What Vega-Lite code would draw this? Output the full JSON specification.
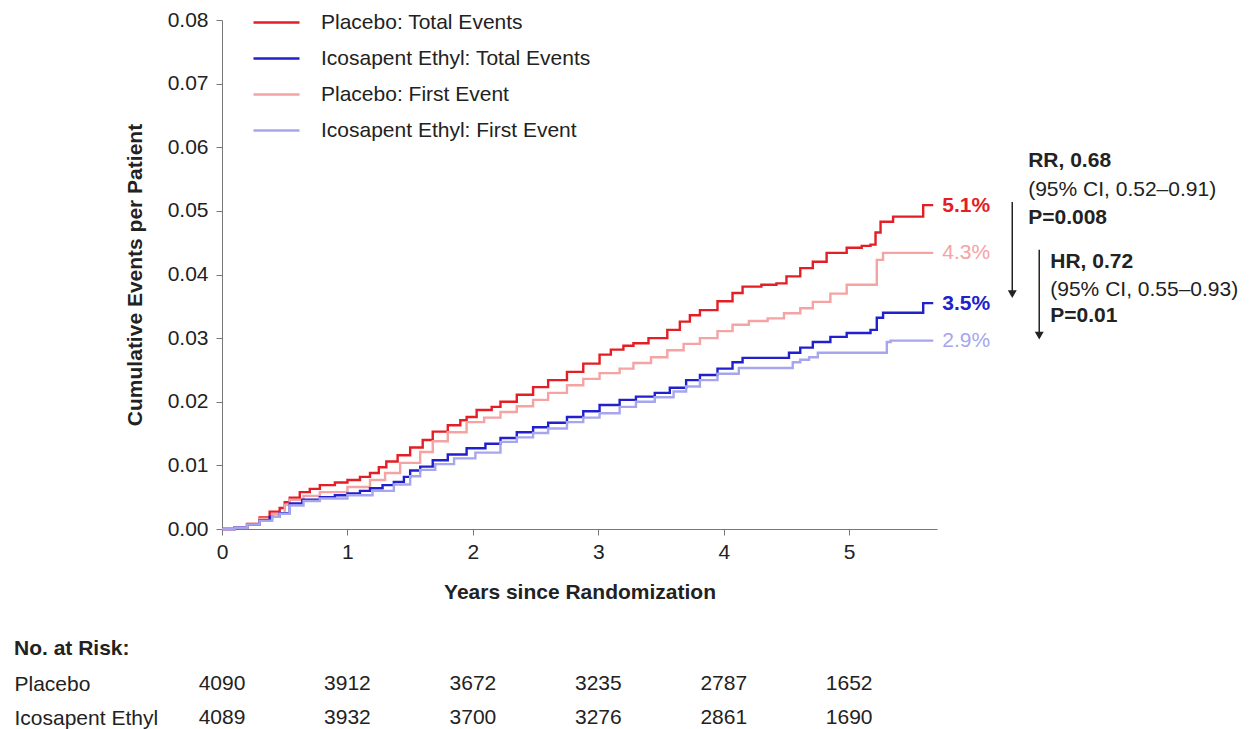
{
  "$schema": "https://vega.github.io/schema/vega-lite/v6.json",
  "background": "white",
  "padding": {"left": 14, "top": 5, "right": 0, "bottom": 0},
  "config": {"font": "Liberation Sans", "view": {"stroke": null}},
  "spacing": 36,
  "resolve": {
    "scale": {"x": "independent", "y": "independent", "color": "independent", "strokeWidth": "independent"},
    "legend": {"color": "independent", "strokeWidth": "independent"}
  },
  "datasets": {
    "curves": [
      {"series": "Placebo: Total Events", "years": 0, "events": 0},
      {"series": "Placebo: Total Events", "years": 0.1, "events": 0.0002},
      {"series": "Placebo: Total Events", "years": 0.2, "events": 0.0008},
      {"series": "Placebo: Total Events", "years": 0.3, "events": 0.0018},
      {"series": "Placebo: Total Events", "years": 0.38, "events": 0.0027},
      {"series": "Placebo: Total Events", "years": 0.46, "events": 0.0033},
      {"series": "Placebo: Total Events", "years": 0.5, "events": 0.0042},
      {"series": "Placebo: Total Events", "years": 0.54, "events": 0.0049},
      {"series": "Placebo: Total Events", "years": 0.62, "events": 0.0058},
      {"series": "Placebo: Total Events", "years": 0.7, "events": 0.0063},
      {"series": "Placebo: Total Events", "years": 0.78, "events": 0.0069},
      {"series": "Placebo: Total Events", "years": 0.9, "events": 0.0073},
      {"series": "Placebo: Total Events", "years": 1.0, "events": 0.0077},
      {"series": "Placebo: Total Events", "years": 1.1, "events": 0.0082},
      {"series": "Placebo: Total Events", "years": 1.18, "events": 0.0088},
      {"series": "Placebo: Total Events", "years": 1.25, "events": 0.0097},
      {"series": "Placebo: Total Events", "years": 1.31, "events": 0.0106},
      {"series": "Placebo: Total Events", "years": 1.4, "events": 0.0116},
      {"series": "Placebo: Total Events", "years": 1.5, "events": 0.0128},
      {"series": "Placebo: Total Events", "years": 1.6, "events": 0.014},
      {"series": "Placebo: Total Events", "years": 1.68, "events": 0.0153},
      {"series": "Placebo: Total Events", "years": 1.8, "events": 0.0163},
      {"series": "Placebo: Total Events", "years": 1.9, "events": 0.0171},
      {"series": "Placebo: Total Events", "years": 1.95, "events": 0.0176},
      {"series": "Placebo: Total Events", "years": 2.03, "events": 0.0187},
      {"series": "Placebo: Total Events", "years": 2.15, "events": 0.0192},
      {"series": "Placebo: Total Events", "years": 2.22, "events": 0.02},
      {"series": "Placebo: Total Events", "years": 2.35, "events": 0.0211},
      {"series": "Placebo: Total Events", "years": 2.48, "events": 0.0223},
      {"series": "Placebo: Total Events", "years": 2.6, "events": 0.0234},
      {"series": "Placebo: Total Events", "years": 2.75, "events": 0.0247},
      {"series": "Placebo: Total Events", "years": 2.88, "events": 0.026},
      {"series": "Placebo: Total Events", "years": 3.01, "events": 0.0274},
      {"series": "Placebo: Total Events", "years": 3.1, "events": 0.0282},
      {"series": "Placebo: Total Events", "years": 3.2, "events": 0.0288},
      {"series": "Placebo: Total Events", "years": 3.28, "events": 0.0292},
      {"series": "Placebo: Total Events", "years": 3.4, "events": 0.03},
      {"series": "Placebo: Total Events", "years": 3.55, "events": 0.0313},
      {"series": "Placebo: Total Events", "years": 3.65, "events": 0.0326},
      {"series": "Placebo: Total Events", "years": 3.73, "events": 0.0336},
      {"series": "Placebo: Total Events", "years": 3.81, "events": 0.0344},
      {"series": "Placebo: Total Events", "years": 3.95, "events": 0.0358},
      {"series": "Placebo: Total Events", "years": 4.07, "events": 0.0371},
      {"series": "Placebo: Total Events", "years": 4.15, "events": 0.0381},
      {"series": "Placebo: Total Events", "years": 4.3, "events": 0.0384},
      {"series": "Placebo: Total Events", "years": 4.42, "events": 0.0386},
      {"series": "Placebo: Total Events", "years": 4.5, "events": 0.0397},
      {"series": "Placebo: Total Events", "years": 4.61, "events": 0.041},
      {"series": "Placebo: Total Events", "years": 4.71, "events": 0.042},
      {"series": "Placebo: Total Events", "years": 4.82, "events": 0.0434},
      {"series": "Placebo: Total Events", "years": 4.98, "events": 0.0442},
      {"series": "Placebo: Total Events", "years": 5.1, "events": 0.0445},
      {"series": "Placebo: Total Events", "years": 5.17, "events": 0.0447},
      {"series": "Placebo: Total Events", "years": 5.21, "events": 0.0466},
      {"series": "Placebo: Total Events", "years": 5.25, "events": 0.0483},
      {"series": "Placebo: Total Events", "years": 5.35, "events": 0.0491},
      {"series": "Placebo: Total Events", "years": 5.59, "events": 0.0509},
      {"series": "Placebo: Total Events", "years": 5.67, "events": 0.0509},

      {"series": "Placebo: First Event", "years": 0, "events": 0},
      {"series": "Placebo: First Event", "years": 0.1, "events": 0.0002},
      {"series": "Placebo: First Event", "years": 0.2, "events": 0.0008},
      {"series": "Placebo: First Event", "years": 0.3, "events": 0.0016},
      {"series": "Placebo: First Event", "years": 0.4, "events": 0.0024},
      {"series": "Placebo: First Event", "years": 0.5, "events": 0.0038},
      {"series": "Placebo: First Event", "years": 0.54, "events": 0.0046},
      {"series": "Placebo: First Event", "years": 0.65, "events": 0.0052},
      {"series": "Placebo: First Event", "years": 0.78, "events": 0.0058},
      {"series": "Placebo: First Event", "years": 1.0, "events": 0.0066},
      {"series": "Placebo: First Event", "years": 1.18, "events": 0.0077},
      {"series": "Placebo: First Event", "years": 1.3, "events": 0.0088},
      {"series": "Placebo: First Event", "years": 1.42, "events": 0.0104},
      {"series": "Placebo: First Event", "years": 1.58, "events": 0.0121},
      {"series": "Placebo: First Event", "years": 1.68, "events": 0.0138},
      {"series": "Placebo: First Event", "years": 1.8, "events": 0.0152},
      {"series": "Placebo: First Event", "years": 1.95, "events": 0.0168},
      {"series": "Placebo: First Event", "years": 2.09, "events": 0.0175},
      {"series": "Placebo: First Event", "years": 2.22, "events": 0.0184},
      {"series": "Placebo: First Event", "years": 2.35, "events": 0.0193},
      {"series": "Placebo: First Event", "years": 2.48, "events": 0.0203},
      {"series": "Placebo: First Event", "years": 2.6, "events": 0.0214},
      {"series": "Placebo: First Event", "years": 2.75, "events": 0.0226},
      {"series": "Placebo: First Event", "years": 2.88, "events": 0.0236},
      {"series": "Placebo: First Event", "years": 3.01, "events": 0.0245},
      {"series": "Placebo: First Event", "years": 3.17, "events": 0.0252},
      {"series": "Placebo: First Event", "years": 3.28, "events": 0.0261},
      {"series": "Placebo: First Event", "years": 3.42, "events": 0.027},
      {"series": "Placebo: First Event", "years": 3.55, "events": 0.0281},
      {"series": "Placebo: First Event", "years": 3.68, "events": 0.0291},
      {"series": "Placebo: First Event", "years": 3.81, "events": 0.03},
      {"series": "Placebo: First Event", "years": 3.95, "events": 0.0311},
      {"series": "Placebo: First Event", "years": 4.07, "events": 0.0321},
      {"series": "Placebo: First Event", "years": 4.2, "events": 0.0327},
      {"series": "Placebo: First Event", "years": 4.35, "events": 0.0331},
      {"series": "Placebo: First Event", "years": 4.48, "events": 0.0339},
      {"series": "Placebo: First Event", "years": 4.61, "events": 0.0347},
      {"series": "Placebo: First Event", "years": 4.71, "events": 0.0357},
      {"series": "Placebo: First Event", "years": 4.85, "events": 0.037},
      {"series": "Placebo: First Event", "years": 4.98, "events": 0.0384},
      {"series": "Placebo: First Event", "years": 5.17, "events": 0.0384},
      {"series": "Placebo: First Event", "years": 5.22, "events": 0.0423},
      {"series": "Placebo: First Event", "years": 5.27, "events": 0.0434},
      {"series": "Placebo: First Event", "years": 5.67, "events": 0.0434},

      {"series": "Icosapent Ethyl: Total Events", "years": 0, "events": 0},
      {"series": "Icosapent Ethyl: Total Events", "years": 0.1, "events": 0.0002},
      {"series": "Icosapent Ethyl: Total Events", "years": 0.2, "events": 0.0007},
      {"series": "Icosapent Ethyl: Total Events", "years": 0.3, "events": 0.0014},
      {"series": "Icosapent Ethyl: Total Events", "years": 0.38, "events": 0.0019},
      {"series": "Icosapent Ethyl: Total Events", "years": 0.46, "events": 0.0025},
      {"series": "Icosapent Ethyl: Total Events", "years": 0.54, "events": 0.004},
      {"series": "Icosapent Ethyl: Total Events", "years": 0.64, "events": 0.0046},
      {"series": "Icosapent Ethyl: Total Events", "years": 0.78, "events": 0.005},
      {"series": "Icosapent Ethyl: Total Events", "years": 0.9, "events": 0.0053},
      {"series": "Icosapent Ethyl: Total Events", "years": 1.0, "events": 0.0056},
      {"series": "Icosapent Ethyl: Total Events", "years": 1.1, "events": 0.006},
      {"series": "Icosapent Ethyl: Total Events", "years": 1.18, "events": 0.0064},
      {"series": "Icosapent Ethyl: Total Events", "years": 1.28, "events": 0.0069},
      {"series": "Icosapent Ethyl: Total Events", "years": 1.37, "events": 0.0074},
      {"series": "Icosapent Ethyl: Total Events", "years": 1.45, "events": 0.0082},
      {"series": "Icosapent Ethyl: Total Events", "years": 1.5, "events": 0.0092},
      {"series": "Icosapent Ethyl: Total Events", "years": 1.58, "events": 0.0098},
      {"series": "Icosapent Ethyl: Total Events", "years": 1.68, "events": 0.0108},
      {"series": "Icosapent Ethyl: Total Events", "years": 1.8, "events": 0.0117},
      {"series": "Icosapent Ethyl: Total Events", "years": 1.95, "events": 0.0127},
      {"series": "Icosapent Ethyl: Total Events", "years": 2.1, "events": 0.0134},
      {"series": "Icosapent Ethyl: Total Events", "years": 2.22, "events": 0.0143},
      {"series": "Icosapent Ethyl: Total Events", "years": 2.35, "events": 0.0152},
      {"series": "Icosapent Ethyl: Total Events", "years": 2.48, "events": 0.016},
      {"series": "Icosapent Ethyl: Total Events", "years": 2.6, "events": 0.0167},
      {"series": "Icosapent Ethyl: Total Events", "years": 2.75, "events": 0.0176},
      {"series": "Icosapent Ethyl: Total Events", "years": 2.88, "events": 0.0185},
      {"series": "Icosapent Ethyl: Total Events", "years": 3.01, "events": 0.0195},
      {"series": "Icosapent Ethyl: Total Events", "years": 3.17, "events": 0.0203},
      {"series": "Icosapent Ethyl: Total Events", "years": 3.3, "events": 0.0208},
      {"series": "Icosapent Ethyl: Total Events", "years": 3.45, "events": 0.0214},
      {"series": "Icosapent Ethyl: Total Events", "years": 3.57, "events": 0.0222},
      {"series": "Icosapent Ethyl: Total Events", "years": 3.7, "events": 0.0234},
      {"series": "Icosapent Ethyl: Total Events", "years": 3.81, "events": 0.0242},
      {"series": "Icosapent Ethyl: Total Events", "years": 3.95, "events": 0.0252},
      {"series": "Icosapent Ethyl: Total Events", "years": 4.07, "events": 0.0262},
      {"series": "Icosapent Ethyl: Total Events", "years": 4.15, "events": 0.0269},
      {"series": "Icosapent Ethyl: Total Events", "years": 4.42, "events": 0.0269},
      {"series": "Icosapent Ethyl: Total Events", "years": 4.52, "events": 0.0277},
      {"series": "Icosapent Ethyl: Total Events", "years": 4.61, "events": 0.0285},
      {"series": "Icosapent Ethyl: Total Events", "years": 4.71, "events": 0.0294},
      {"series": "Icosapent Ethyl: Total Events", "years": 4.85, "events": 0.0302},
      {"series": "Icosapent Ethyl: Total Events", "years": 4.98, "events": 0.0308},
      {"series": "Icosapent Ethyl: Total Events", "years": 5.17, "events": 0.0313},
      {"series": "Icosapent Ethyl: Total Events", "years": 5.22, "events": 0.0332},
      {"series": "Icosapent Ethyl: Total Events", "years": 5.27, "events": 0.034},
      {"series": "Icosapent Ethyl: Total Events", "years": 5.59, "events": 0.0355},
      {"series": "Icosapent Ethyl: Total Events", "years": 5.67, "events": 0.0355},

      {"series": "Icosapent Ethyl: First Event", "years": 0, "events": 0},
      {"series": "Icosapent Ethyl: First Event", "years": 0.1, "events": 0.0002},
      {"series": "Icosapent Ethyl: First Event", "years": 0.2, "events": 0.0007},
      {"series": "Icosapent Ethyl: First Event", "years": 0.3, "events": 0.0013},
      {"series": "Icosapent Ethyl: First Event", "years": 0.4, "events": 0.0019},
      {"series": "Icosapent Ethyl: First Event", "years": 0.46, "events": 0.0024},
      {"series": "Icosapent Ethyl: First Event", "years": 0.54, "events": 0.0037},
      {"series": "Icosapent Ethyl: First Event", "years": 0.65, "events": 0.0044},
      {"series": "Icosapent Ethyl: First Event", "years": 0.78, "events": 0.0048},
      {"series": "Icosapent Ethyl: First Event", "years": 1.0, "events": 0.0053},
      {"series": "Icosapent Ethyl: First Event", "years": 1.2, "events": 0.006},
      {"series": "Icosapent Ethyl: First Event", "years": 1.37, "events": 0.007},
      {"series": "Icosapent Ethyl: First Event", "years": 1.5, "events": 0.0083},
      {"series": "Icosapent Ethyl: First Event", "years": 1.58, "events": 0.0093},
      {"series": "Icosapent Ethyl: First Event", "years": 1.7, "events": 0.0102},
      {"series": "Icosapent Ethyl: First Event", "years": 1.85, "events": 0.0111},
      {"series": "Icosapent Ethyl: First Event", "years": 2.02, "events": 0.012},
      {"series": "Icosapent Ethyl: First Event", "years": 2.22, "events": 0.0137},
      {"series": "Icosapent Ethyl: First Event", "years": 2.35, "events": 0.0144},
      {"series": "Icosapent Ethyl: First Event", "years": 2.48, "events": 0.0151},
      {"series": "Icosapent Ethyl: First Event", "years": 2.6, "events": 0.0158},
      {"series": "Icosapent Ethyl: First Event", "years": 2.75, "events": 0.0168},
      {"series": "Icosapent Ethyl: First Event", "years": 2.88, "events": 0.0175},
      {"series": "Icosapent Ethyl: First Event", "years": 3.01, "events": 0.0182},
      {"series": "Icosapent Ethyl: First Event", "years": 3.17, "events": 0.0192},
      {"series": "Icosapent Ethyl: First Event", "years": 3.3, "events": 0.02},
      {"series": "Icosapent Ethyl: First Event", "years": 3.45, "events": 0.0207},
      {"series": "Icosapent Ethyl: First Event", "years": 3.6, "events": 0.0216},
      {"series": "Icosapent Ethyl: First Event", "years": 3.7, "events": 0.0224},
      {"series": "Icosapent Ethyl: First Event", "years": 3.81, "events": 0.0234},
      {"series": "Icosapent Ethyl: First Event", "years": 3.95, "events": 0.0244},
      {"series": "Icosapent Ethyl: First Event", "years": 4.12, "events": 0.0253},
      {"series": "Icosapent Ethyl: First Event", "years": 4.46, "events": 0.0253},
      {"series": "Icosapent Ethyl: First Event", "years": 4.55, "events": 0.0262},
      {"series": "Icosapent Ethyl: First Event", "years": 4.61, "events": 0.0266},
      {"series": "Icosapent Ethyl: First Event", "years": 4.68, "events": 0.027},
      {"series": "Icosapent Ethyl: First Event", "years": 4.75, "events": 0.0277},
      {"series": "Icosapent Ethyl: First Event", "years": 5.3, "events": 0.0294},
      {"series": "Icosapent Ethyl: First Event", "years": 5.33, "events": 0.0296},
      {"series": "Icosapent Ethyl: First Event", "years": 5.67, "events": 0.0296}
    ],
    "endTotals": [
      {"series": "Placebo: Total Events", "label": "5.1%", "years": 5.742, "events": 0.0508},
      {"series": "Icosapent Ethyl: Total Events", "label": "3.5%", "years": 5.742, "events": 0.0353}
    ],
    "endFirsts": [
      {"series": "Placebo: First Event", "label": "4.3%", "years": 5.742, "events": 0.0434},
      {"series": "Icosapent Ethyl: First Event", "label": "2.9%", "years": 5.742, "events": 0.0295}
    ],
    "statsBold": [
      {"label": "RR, 0.68", "years": 6.427, "events": 0.0578},
      {"label": "P=0.008", "years": 6.427, "events": 0.0489},
      {"label": "HR, 0.72", "years": 6.603, "events": 0.042},
      {"label": "P=0.01", "years": 6.603, "events": 0.0335}
    ],
    "statsPlain": [
      {"label": "(95% CI, 0.52–0.91)", "years": 6.427, "events": 0.0533},
      {"label": "(95% CI, 0.55–0.93)", "years": 6.603, "events": 0.0376}
    ],
    "arrows": [
      {"years": 6.3, "top": 0.0514, "bottom": 0.0372, "tip": 0.0369},
      {"years": 6.515, "top": 0.0439, "bottom": 0.0307, "tip": 0.0304}
    ],
    "atrisk": [
      {"arm": "Placebo", "years": 0, "n": "4090"},
      {"arm": "Placebo", "years": 1, "n": "3912"},
      {"arm": "Placebo", "years": 2, "n": "3672"},
      {"arm": "Placebo", "years": 3, "n": "3235"},
      {"arm": "Placebo", "years": 4, "n": "2787"},
      {"arm": "Placebo", "years": 5, "n": "1652"},
      {"arm": "Icosapent Ethyl", "years": 0, "n": "4089"},
      {"arm": "Icosapent Ethyl", "years": 1, "n": "3932"},
      {"arm": "Icosapent Ethyl", "years": 2, "n": "3700"},
      {"arm": "Icosapent Ethyl", "years": 3, "n": "3276"},
      {"arm": "Icosapent Ethyl", "years": 4, "n": "2861"},
      {"arm": "Icosapent Ethyl", "years": 5, "n": "1690"}
    ]
  },
  "vconcat": [
    {
      "width": 715,
      "height": 509,
      "encoding": {
        "x": {"field": "years", "type": "quantitative",
          "scale": {"domain": [0, 5.7], "nice": false, "zero": false},
          "axis": {"values": [0, 1, 2, 3, 4, 5], "format": "d", "title": "Years since Randomization",
            "titleFontSize": 21, "titleFontWeight": "bold", "titleColor": "#222", "titlePadding": 19,
            "labelFontSize": 21, "labelColor": "#222", "labelPadding": 6, "labelFlush": false,
            "tickSize": 6, "tickColor": "#777", "domainColor": "#777", "grid": false}},
        "y": {"field": "events", "type": "quantitative",
          "scale": {"domain": [0, 0.08], "nice": false},
          "axis": {"values": [0, 0.01, 0.02, 0.03, 0.04, 0.05, 0.06, 0.07, 0.08], "format": ".2f",
            "title": "Cumulative Events per Patient",
            "titleFontSize": 21, "titleFontWeight": "bold", "titleColor": "#222", "titlePadding": 22,
            "labelFontSize": 21, "labelColor": "#222", "labelPadding": 8,
            "tickSize": 6, "tickColor": "#777", "domainColor": "#777", "grid": false}}
      },
      "layer": [
        {
          "data": {"name": "curves"},
          "mark": {"type": "line", "interpolate": "step-after"},
          "encoding": {
            "color": {"field": "series", "type": "nominal",
              "scale": {"domain": ["Placebo: Total Events", "Icosapent Ethyl: Total Events", "Placebo: First Event", "Icosapent Ethyl: First Event"],
                "range": ["#e41e25", "#2020cc", "#f5a3a3", "#a6a6ee"]},
              "legend": {"title": null, "orient": "none", "legendX": 30, "legendY": -15,
                "symbolType": "stroke", "symbolSize": 2116, "symbolStrokeWidth": 2,
                "labelFontSize": 21, "labelColor": "#222", "labelOffset": 20, "labelLimit": 0,
                "rowPadding": 1, "clipHeight": 35, "padding": 0}},
            "strokeWidth": {"field": "series", "type": "nominal",
              "scale": {"domain": ["Placebo: Total Events", "Icosapent Ethyl: Total Events", "Placebo: First Event", "Icosapent Ethyl: First Event"],
                "range": [2.4, 2.4, 1.4, 1.4]},
              "legend": null},
            "order": {"field": "years", "type": "quantitative"}
          }
        },
        {
          "data": {"name": "endTotals"},
          "mark": {"type": "text", "align": "left", "baseline": "middle", "fontSize": 21, "fontWeight": "bold"},
          "encoding": {"text": {"field": "label"}, "color": {"field": "series", "type": "nominal"}}
        },
        {
          "data": {"name": "endFirsts"},
          "mark": {"type": "text", "align": "left", "baseline": "middle", "fontSize": 21},
          "encoding": {"text": {"field": "label"}, "color": {"field": "series", "type": "nominal"}}
        },
        {
          "data": {"name": "statsBold"},
          "mark": {"type": "text", "align": "left", "baseline": "middle", "fontSize": 21, "fontWeight": "bold", "color": "#222"},
          "encoding": {"text": {"field": "label"}}
        },
        {
          "data": {"name": "statsPlain"},
          "mark": {"type": "text", "align": "left", "baseline": "middle", "fontSize": 21, "color": "#222"},
          "encoding": {"text": {"field": "label"}}
        },
        {
          "data": {"name": "arrows"},
          "mark": {"type": "rule", "color": "#222", "strokeWidth": 1.5},
          "encoding": {"y": {"field": "top", "type": "quantitative"}, "y2": {"field": "bottom"}}
        },
        {
          "data": {"name": "arrows"},
          "mark": {"type": "point", "shape": "triangle-down", "filled": true, "color": "#222", "size": 80, "opacity": 1},
          "encoding": {"y": {"field": "tip", "type": "quantitative"}}
        }
      ]
    },
    {
      "width": 715,
      "height": 68,
      "title": {"text": "No. at Risk:", "anchor": "start", "frame": "bounds", "fontSize": 21, "fontWeight": "bold", "color": "#222", "offset": 8},
      "data": {"name": "atrisk"},
      "mark": {"type": "text", "fontSize": 21, "color": "#222", "baseline": "middle"},
      "encoding": {
        "x": {"field": "years", "type": "quantitative", "scale": {"domain": [0, 5.7], "nice": false}, "axis": null},
        "y": {"field": "arm", "type": "nominal", "sort": ["Placebo", "Icosapent Ethyl"],
          "axis": {"title": null, "domain": false, "ticks": false, "labelAlign": "left", "labelPadding": 208,
            "labelFontSize": 21, "labelColor": "#222"}},
        "text": {"field": "n"}
      }
    }
  ]
}
